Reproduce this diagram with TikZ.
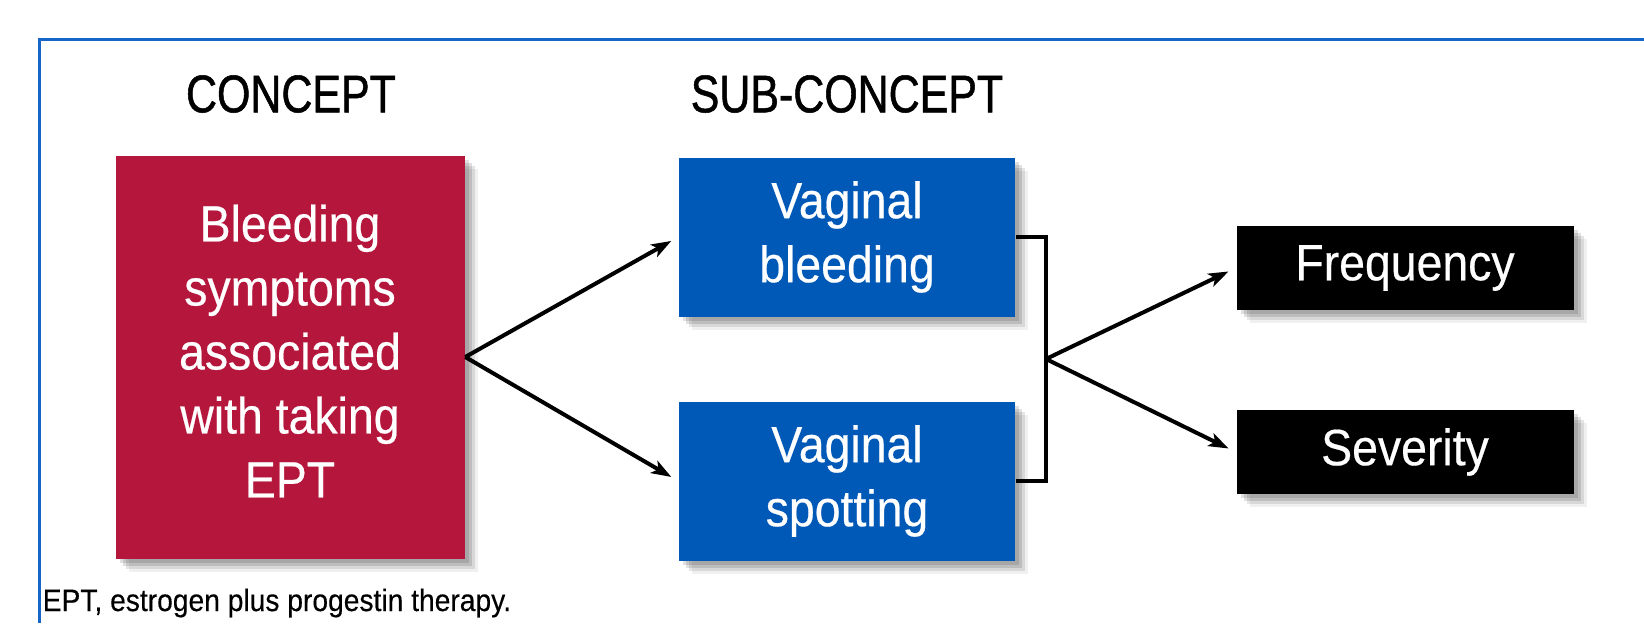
\documentclass[tikz,border=0pt]{standalone}
\usepackage{fontspec}
\setmainfont{Liberation Sans}
\newfontfamily\headfont{Liberation Sans}[FakeStretch=0.81,FakeBold=1]
\newfontfamily\boxfont{Liberation Sans}[FakeStretch=0.91,FakeBold=0.4]
\newfontfamily\notefont{Liberation Sans}[FakeStretch=0.91,FakeBold=0.3]
\usetikzlibrary{arrows.meta,shadows}
\definecolor{conceptred}{RGB}{181,22,60}
\definecolor{subblue}{RGB}{0,88,183}
\definecolor{frameblue}{RGB}{22,102,200}

\tikzset{every picture/.style={line width=0.75pt}}
\tikzset{
  softshadow/.style={
    drop shadow={shadow xshift=2pt,shadow yshift=-2pt,fill=black,opacity=0.12},
    drop shadow={shadow xshift=3.5pt,shadow yshift=-3.5pt,fill=black,opacity=0.12},
    drop shadow={shadow xshift=5pt,shadow yshift=-5pt,fill=black,opacity=0.1},
    drop shadow={shadow xshift=6.5pt,shadow yshift=-6.5pt,fill=black,opacity=0.06}},
  anybox/.style={softshadow,text=white,inner sep=0pt,align=center,
    font=\boxfont\fontsize{25.5}{32}\selectfont},
  conceptbox/.style={anybox,fill=conceptred,minimum width=174.5pt,minimum height=201.5pt},
  subbox/.style={anybox,fill=subblue,minimum width=168pt,minimum height=79.5pt},
  aspectbox/.style={anybox,fill=black,minimum width=168.5pt,minimum height=42pt},
  heading/.style={font=\headfont\fontsize{26.5}{32}\selectfont},
  flowarrow/.style={line width=2pt,-{Stealth[length=10pt,width=7pt,inset=2.5pt]},shorten >=4pt},
  bracketline/.style={line width=2pt},
}

\begin{document}
\begin{tikzpicture}[x=0.5pt,y=0.5pt,yscale=-1,xscale=1]
		\useasboundingbox (0,0) rectangle (1644,623);
		
		%Frame
		\draw [color=frameblue,line width=1.5pt] (39,623) -- (39,39) -- (1644,39) ;
		
		% Headings
		\node [heading] (conceptlabel) at (291,94) {CONCEPT};
		\node [heading] (sublabel) at (847,94) {SUB-CONCEPT};
		
		% Boxes
		\node [conceptbox] (concept) at (290,357) {Bleeding\\symptoms\\associated\\with taking\\EPT\rule[-6pt]{0pt}{1pt}};
		\node [subbox] (bleeding) at (847,237) {Vaginal\\bleeding};
		\node [subbox] (spotting) at (847,481) {Vaginal\\spotting};
		\node [aspectbox] (frequency) at (1405,268) {Frequency};
		\node [aspectbox] (severity) at (1405,452) {Severity};
		
		% Connectors
		\coordinate (join) at (1046,359);
		\draw [flowarrow] (concept.east) -- (bleeding.west) ;
		\draw [flowarrow] (concept.east) -- (spotting.west) ;
		\draw [bracketline] (bleeding.east) -- (bleeding.east -| join) -- (spotting.east -| join) -- (spotting.east) ;
		\draw [flowarrow] (join) -- (frequency.west) ;
		\draw [flowarrow] (join) -- (severity.west) ;
		
		% Text Node
		\node [anchor=west,inner sep=0pt,font=\notefont\fontsize{15.5}{18}\selectfont] (note) at (42,603) {EPT, estrogen plus progestin therapy.};
		
\end{tikzpicture}
\end{document}
